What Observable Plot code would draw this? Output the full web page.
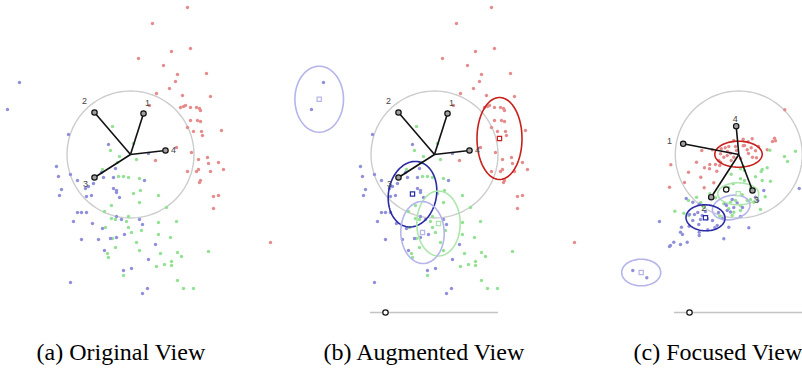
<!DOCTYPE html>
<html>
<head>
<meta charset="utf-8">
<script src="https://cdn.jsdelivr.net/npm/d3@7"></script>
<script src="https://cdn.jsdelivr.net/npm/@observablehq/plot@0.6"></script>
<style>
  html, body { margin: 0; padding: 0; background: #fff; }
  #chart svg { display: block; }
</style>
</head>
<body>
<div id="chart"></div>
<script>
// ---------- DATA (panel-local projection coordinates) ----------
// Projection shared by (a) Original View and (b) Augmented View
const redAB = [[187,7],[152,23],[190,48],[171,51],[138,58],[163,65],[206,73],[177,74],[175,81],[169,88],[156,93],[210,96],[182,95],[149,105],[180,107],[183,106],[185,105],[190,107],[196,107],[199,108],[200,110],[190,120],[197,120],[200,121],[187,127],[193,131],[201,131],[202,135],[221,130],[176,147],[191,152],[155,160],[198,159],[207,157],[208,163],[218,162],[223,169],[210,171],[187,171],[196,171],[198,169],[200,180],[199,182],[213,196],[218,195],[213,208],[270,242]];
const greenAB = [[112,126],[133,143],[110,150],[119,156],[136,159],[117,162],[102,169],[118,176],[123,176],[128,177],[139,178],[140,190],[133,193],[158,195],[139,202],[111,205],[104,211],[166,207],[128,216],[111,218],[115,219],[126,221],[158,222],[176,221],[128,227],[105,227],[141,230],[131,232],[158,234],[112,238],[170,237],[136,242],[115,247],[139,250],[107,253],[108,257],[160,253],[177,252],[181,256],[208,251],[171,261],[171,265],[164,264],[156,266],[123,275],[177,280],[183,288],[193,288]];
const blueAB = [[19,82],[7,109],[68,134],[108,144],[148,153],[56,166],[101,172],[103,177],[115,168],[58,176],[70,174],[113,177],[144,180],[77,180],[93,183],[88,186],[85,188],[113,188],[116,190],[116,192],[61,189],[59,195],[91,195],[86,196],[119,197],[77,212],[81,212],[86,212],[73,221],[116,216],[121,219],[139,219],[92,223],[142,224],[102,228],[124,234],[110,238],[116,237],[81,239],[98,239],[155,244],[104,250],[148,259],[123,270],[131,268],[70,282],[147,288],[142,293]];

// Projection of (c) Focused View
const redC = [[176.3,109.3],[125.3,140],[134.7,138.7],[143.7,138.3],[139.7,141.3],[136,145],[166,137.7],[167,140.3],[164,141],[158.7,149.3],[103.7,149.3],[93.3,150],[112.7,148.3],[116.7,147.3],[120.3,146],[134.7,145.3],[138.7,149.3],[142.7,147.3],[147,150.3],[144,156.7],[148,157.3],[112,153.3],[115.3,156.7],[118.7,155],[122,152.7],[125.3,156.7],[122.7,160],[110.3,160],[107,164],[111.3,165],[88,161.7],[101.3,164],[62.3,164.3],[96,167.3],[101,168.3],[80,171.7],[108.3,170.7],[92.3,176.7],[76,182],[61,186.7],[95.7,187.3],[105.3,182.3],[128,150],[132,158],[119,151],[112,161.7],[140,153],[150,146],[127,146]];
const greenC = [[187,150.7],[176,156],[179,161],[161.3,149.7],[135,166],[132,168.3],[136,170],[153.7,169],[152.7,171],[158.7,167.3],[147,176.3],[153.7,180],[162,180.7],[132,178.3],[136,180],[124.7,183.3],[120.3,187.3],[142,187.3],[156.7,196.3],[152,209],[122.7,173.7],[101.3,193.3],[107,197.3],[88,196.7],[80,200],[92.3,202],[95.3,206.7],[66.3,210.7],[75.3,212.7],[80.3,215],[115.3,203.3],[122,201.7],[127,200],[132,205],[120.3,208.3],[125.3,211.7],[132,210],[138.7,200],[145.3,201.7],[111.3,215.7],[123.7,215],[133.7,194.3],[142,199]];
const blueC = [[190.7,188],[155.3,190],[147,196.7],[149.3,200],[77.7,198],[84.3,201.7],[90.7,203.7],[81,214],[86,214],[89.3,212],[51,221],[73,226.7],[72,231.7],[74,234],[80.7,225.7],[90.3,224],[84.3,220],[92,219],[93.7,215],[98.7,218.3],[90.7,231.7],[90.7,235],[99.3,229.3],[106.3,227.3],[108.7,225],[120.3,226.7],[140.3,227.3],[115.3,238.3],[78.7,241.7],[72,244],[65.3,241.7],[62,245],[61,246],[118,205],[118.7,210],[122,211.5],[125.3,207],[134,207],[117,203.3],[128.7,202.5],[132,216],[114,218],[104,220],[110,212],[97,211],[24.3,270],[38.3,277.3],[123.7,199]];

// Biplot axes (dimension label, end point) and centre
const axisLabels = ["1", "2", "3", "4"];
const axisEndsAB = [[143,113],[94,112],[94,177],[165,150]];
const axisEndsC  = [[74.7,143.3],[102.7,196.7],[144,190],[127.7,125.7]];
const axisLabelPosAB = [[147,103],[84,101],[85,184],[173,150]];
const axisLabelPosC  = [[61,141],[95.3,207.7],[148,200],[126.7,119]];
const centreAB = [130,154];
const centreC  = [130.3,154];
const extraRingC = [[117.7,189]];

// Cluster ellipses: [cx, cy, rx, ry, rotation(deg), colour]
const ellipsesB = [[14.7,98.7,24.3,33,0,"lav"],[195,138,22.5,41,0,"red"],[108,193.7,24,33,10,"navy"],[134,223,21.7,32.5,0,"lgreen"],[118,232,21.7,31,-2,"lav"]];
const ellipsesC = [[130,153.7,23.7,13,0,"red"],[129.7,193.3,20.5,11,0,"lgreen"],[122.7,207,19,12,-12,"lav"],[97,217.3,19.5,13,2,"navy"],[32.7,272,19.5,13.3,0,"lav"]];
const centroidsB = [[14.7,98.7,"lav"],[195,138,"red"],[108,193.5,"navy"],[134,223,"lgreen"],[118,232,"lav"]];
const centroidsC = [[129.7,193.3,"lgreen"],[97,217.3,"navy"],[32.7,272,"lav"]];

// Slider (start, end, handle) in panel units
const slider = [66, 194, 81];
const sliderY = 312;

const captions = ["(a) Original View", "(b) Augmented View", "(c) Focused View"];

// ---------- LAYOUT / STYLE ----------
const W = 802, H = 370;
const panelOffset = [0, 304, 608];
const captionX = [36, 323, 633];
const captionY = 359;
const pointColor = {red: "#e58b8b", green: "#93e293", blue: "#8f8fdb"};
const ringColor = {red: "#c8201c", navy: "#2b2ba6", lgreen: "#ade6ad", lav: "#b5b5ec"};

// ---------- build tables ----------
const points = [];
function addPts(arr, cls, off) { for (const [x, y] of arr) points.push({x: x + off, y, c: pointColor[cls]}); }
for (const off of [panelOffset[0], panelOffset[1]]) { addPts(redAB, "red", off); addPts(greenAB, "green", off); addPts(blueAB, "blue", off); }
addPts(redC, "red", panelOffset[2]); addPts(greenC, "green", panelOffset[2]); addPts(blueC, "blue", panelOffset[2]);

// big gray unit circles (radius = axis length scale) for each panel
const bigCircles = [];
const R = 63.5;
[[centreAB, 0], [centreAB, 1], [centreC, 2]].forEach(([c, p]) => {
  for (let i = 0; i <= 120; i++) {
    const t = 2 * Math.PI * i / 120;
    bigCircles.push({x: panelOffset[p] + c[0] + R * Math.cos(t), y: c[1] + R * Math.sin(t), id: "circ" + p});
  }
});

const ellPts = [];
function addEll(list, off, tag) {
  list.forEach(([cx, cy, rx, ry, a, col], k) => {
    const A = a * Math.PI / 180;
    for (let i = 0; i <= 90; i++) {
      const t = 2 * Math.PI * i / 90;
      const ex = rx * Math.cos(t), ey = ry * Math.sin(t);
      ellPts.push({x: off + cx + ex * Math.cos(A) - ey * Math.sin(A), y: cy + ex * Math.sin(A) + ey * Math.cos(A), id: tag + k, c: ringColor[col]});
    }
  });
}
addEll(ellipsesB, panelOffset[1], "b");
addEll(ellipsesC, panelOffset[2], "c");

const centroids = [
  ...centroidsB.map(([x, y, col]) => ({x: x + panelOffset[1], y, c: ringColor[col]})),
  ...centroidsC.map(([x, y, col]) => ({x: x + panelOffset[2], y, c: ringColor[col]}))
];

const links = [], ends = [], labels = [];
[[centreAB, axisEndsAB, axisLabelPosAB, 0], [centreAB, axisEndsAB, axisLabelPosAB, 1], [centreC, axisEndsC, axisLabelPosC, 2]].forEach(([c, e, lp, p]) => {
  const off = panelOffset[p];
  e.forEach(([x, y], k) => {
    links.push({x1: off + c[0], y1: c[1], x2: off + x, y2: y});
    ends.push({x: off + x, y});
    labels.push({x: off + lp[k][0], y: lp[k][1], t: axisLabels[k]});
  });
});
const rings = extraRingC.map(([x, y]) => ({x: x + panelOffset[2], y}));

const sliders = [1, 2].map(p => ({x1: panelOffset[p] + slider[0], x2: panelOffset[p] + slider[1], y: sliderY, h: panelOffset[p] + slider[2]}));

const caps = captions.map((t, i) => ({t, x: captionX[i], y: captionY}));

// ---------- PLOT ----------
const chart = Plot.plot({
  width: W, height: H,
  margin: 0, marginTop: 0, marginRight: 0, marginBottom: 0, marginLeft: 0,
  x: {domain: [0, W], range: [0, W], axis: null},
  y: {domain: [0, H], range: [0, H], axis: null},
  color: {type: "identity"},
  style: {background: "#fff", overflow: "visible"},
  marks: [
    Plot.line(bigCircles, {x: "x", y: "y", z: "id", stroke: "#cccccc", strokeWidth: 1.4}),
    Plot.ruleY(sliders, {x1: "x1", x2: "x2", y: "y", stroke: "#c4c4c4", strokeWidth: 1.4}),
    Plot.dot(points, {x: "x", y: "y", r: 1.7, fill: "c", stroke: null}),
    Plot.line(ellPts, {x: "x", y: "y", z: "id", stroke: "c", strokeWidth: 1.6}),
    Plot.dot(centroids, {x: "x", y: "y", symbol: "square", r: 2.4, stroke: "c", fill: "#fff", strokeWidth: 1.2}),
    Plot.link(links, {x1: "x1", y1: "y1", x2: "x2", y2: "y2", stroke: "#111", strokeWidth: 1.6}),
    Plot.dot(ends, {x: "x", y: "y", r: 2.7, stroke: "#111", fill: "#a0a0a0", strokeWidth: 1.2}),
    Plot.dot(rings, {x: "x", y: "y", r: 2.7, stroke: "#111", fill: "#fff", strokeWidth: 1.2}),
    Plot.dot(sliders, {x: "h", y: "y", r: 2.7, stroke: "#111", fill: "#fff", strokeWidth: 1.2}),
    Plot.text(labels, {x: "x", y: "y", text: "t", fill: "#444", fontSize: 9, fontFamily: "Liberation Sans, Arial, sans-serif"}),
    Plot.text(caps, {x: "x", y: "y", text: "t", textAnchor: "start", lineAnchor: "bottom", fill: "#000", fontSize: 24, fontFamily: "Liberation Serif, Times New Roman, serif"})
  ]
});
document.getElementById("chart").appendChild(chart);
</script>
</body>
</html>
